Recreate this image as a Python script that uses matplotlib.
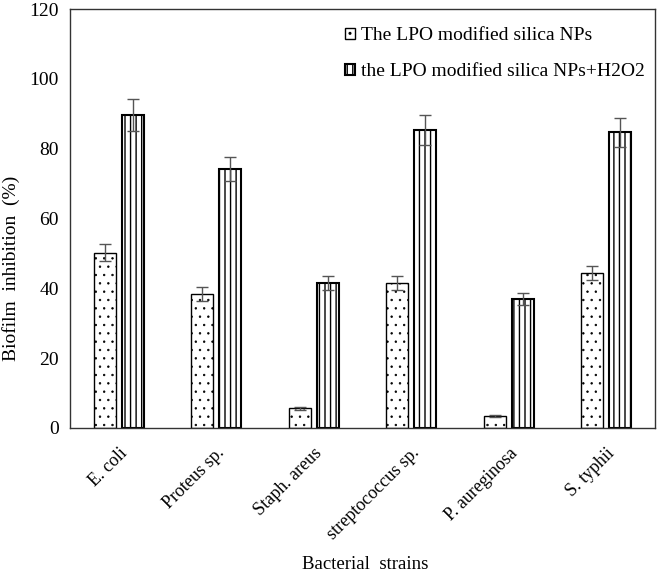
import matplotlib
matplotlib.use("Agg")
import matplotlib.pyplot as plt
import matplotlib.transforms as mtransforms
import numpy as np

categories = ["E. coli", "Proteus sp.", "Staph. areus", "streptococcus sp.", "P. aureginosa", "S. typhii"]
series_names = ["The LPO modified silica NPs", "the LPO modified silica NPs+H2O2"]
np_values = [50.2, 38.5, 5.6, 41.4, 3.5, 44.5]
np_errors = [2.5, 2.0, 0.4, 2.0, 0.3, 2.0]
h2o2_values = [89.7, 74.2, 41.5, 85.3, 37.0, 84.7]
h2o2_errors = [4.5, 3.5, 2.0, 4.3, 1.8, 4.2]
y_ticks = [0, 20, 40, 60, 80, 100, 120]

plt.rcParams['font.family'] = ['Liberation Serif', 'DejaVu Serif']

W, H = 663, 574
fig = plt.figure(figsize=(W / 100, H / 100), dpi=100)
ax = fig.add_axes([70 / W, (H - 428) / H, (655 - 70) / W, (428 - 9) / H])

x = np.arange(len(categories))
w = 0.225
gap = 0.06
with plt.rc_context({'hatch.linewidth': 0.5, 'hatch.color': '#333333'}):
    b1 = ax.bar(x - (w + gap) / 2, np_values, w, color='white', edgecolor='black',
                hatch='..', linewidth=1.0, label=series_names[0], zorder=2)
with plt.rc_context({'hatch.linewidth': 1.0}):
    b2 = ax.bar(x + (w + gap) / 2, h2o2_values, w, color='white', edgecolor='black',
                hatch='|||', linewidth=1.5, label=series_names[1], zorder=2)
ax.errorbar(x - (w + gap) / 2, np_values, yerr=np_errors, fmt='none',
            ecolor='#555555', elinewidth=1.0, capsize=4, capthick=1.0, zorder=3)
ax.errorbar(x + (w + gap) / 2, h2o2_values, yerr=h2o2_errors, fmt='none',
            ecolor='#555555', elinewidth=1.0, capsize=4, capthick=1.0, zorder=3)

ax.set_xlim(-0.5, len(categories) - 0.5)
ax.set_ylim(0, 120)
ax.set_yticks(y_ticks)
ax.set_yticklabels([str(t) for t in y_ticks], fontsize=14)
ax.set_xticks(x)
ax.set_xticklabels(categories, rotation=45, ha='right', rotation_mode='anchor', fontsize=13)
offset = mtransforms.ScaledTranslation(-3 / 100, 0, fig.dpi_scale_trans)
for lab in ax.get_xticklabels():
    lab.set_transform(lab.get_transform() + offset)
ax.tick_params(axis='y', length=0, pad=8)
ax.tick_params(axis='x', length=0, pad=12)
for s in ax.spines.values():
    s.set_color('#333333')
    s.set_linewidth(1.0)

ax.set_ylabel("Biofilm  inhibition  (%)", fontsize=14)
ax.yaxis.set_label_coords(-0.086, 0.38)
fig.text(365 / W, (H - 569) / H, "Bacterial  strains", ha='center', va='baseline', fontsize=13.5)

leg = fig.legend(handles=[b1, b2], labels=series_names, loc='upper left',
                 bbox_to_anchor=(345 / W, 1 - 27 / H), frameon=False, borderpad=0,
                 borderaxespad=0, fontsize=14, handlelength=0.5, handleheight=0.5,
                 handletextpad=0.3, labelspacing=1.0)

fig.savefig("out.png", dpi=100)
